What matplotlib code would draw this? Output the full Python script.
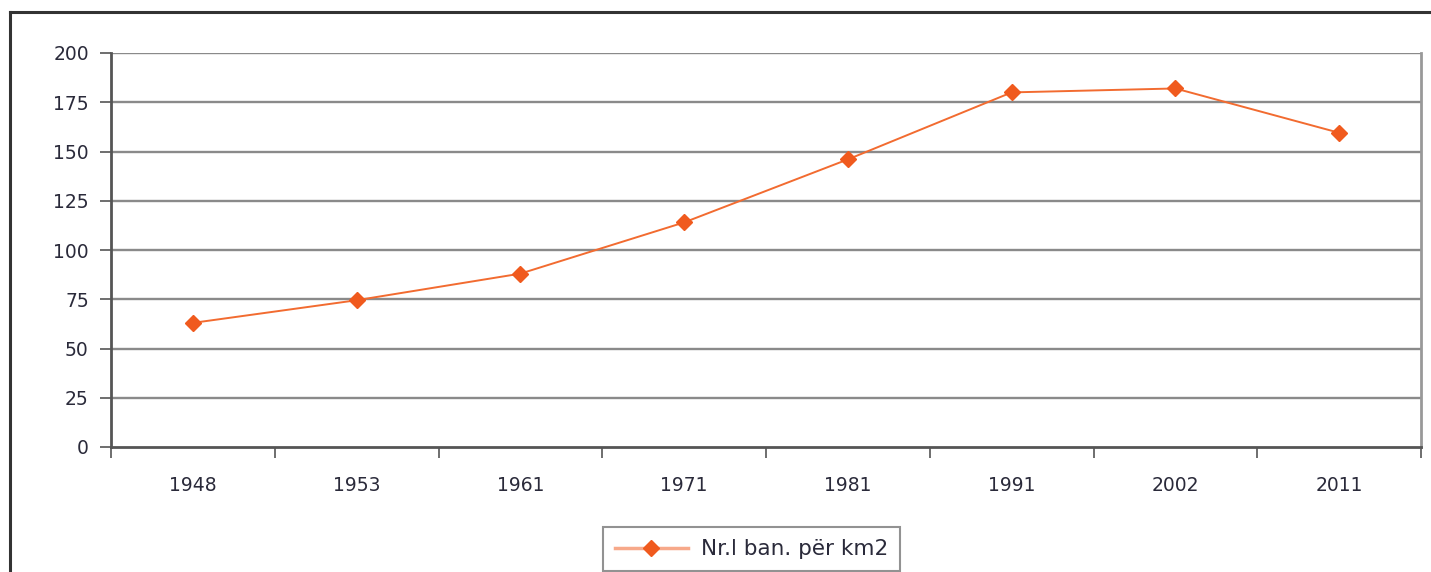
import matplotlib
matplotlib.use("Agg")
import matplotlib.pyplot as plt
from matplotlib.lines import Line2D

years = ["1948", "1953", "1961", "1971", "1981", "1991", "2002", "2011"]
density = [63, 74.5, 88, 114, 146, 180, 182, 159.5]
yticks = [0, 25, 50, 75, 100, 125, 150, 175, 200]
series_label = "Nr.l ban. për km2"

plt.rcParams['font.family'] = ['DejaVu Sans']

W, H = 1431, 572
fig = plt.figure(figsize=(W / 100, H / 100), dpi=100)

# outer frame (left, top)
fig.add_artist(Line2D([10 / W, 10 / W], [0, 1 - 12 / H], transform=fig.transFigure,
                      color="#333333", lw=2.2))
fig.add_artist(Line2D([10 / W, 1], [1 - 12 / H, 1 - 12 / H], transform=fig.transFigure,
                      color="#333333", lw=2.2))

left, right, top, bottom = 111, 1421, 53, 447
ax = fig.add_axes([left / W, 1 - bottom / H, (right - left) / W, (bottom - top) / H])

x = list(range(len(years)))
color = "#f05a1e"
ax.plot(x, density, color="#f26b30", lw=1.4, marker="D", markersize=8.5,
        markerfacecolor=color, markeredgecolor=color, label=series_label)

fs = 13.5
ax.set_xlim(-0.5, len(years) - 0.5)
ax.set_ylim(0, 200)
ax.set_yticks(yticks)
ax.set_yticklabels([str(v) for v in yticks])
ax.set_xticks(x)
ax.set_xticklabels(years)
ax.set_xticks([i + 0.5 for i in range(-1, len(years))], minor=True)
ax.tick_params(axis="x", which="major", length=0, pad=21, labelsize=fs, labelcolor="#2a2a3a")
ax.tick_params(axis="x", which="minor", length=8, width=1.2, color="#555555", direction="out")
ax.tick_params(axis="y", length=8, width=1.2, color="#555555", pad=8, labelsize=fs,
               labelcolor="#2a2a3a")

for v in yticks[1:]:
    ax.axhline(v, color="#8a8a8a", lw=1.7, zorder=0)

ax.spines["left"].set_color("#555555")
ax.spines["left"].set_linewidth(2)
ax.spines["bottom"].set_color("#555555")
ax.spines["bottom"].set_linewidth(2)
ax.spines["top"].set_visible(False)
ax.spines["right"].set_color("#999999")
ax.spines["right"].set_linewidth(2)

leg = fig.legend(loc="lower left", bbox_to_anchor=(603 / W, 1 - 571 / H), frameon=True,
                 fancybox=False, fontsize=15.5, handlelength=3.4, borderpad=0.55,
                 handletextpad=0.6, borderaxespad=0)
leg.get_frame().set_edgecolor("#777777")
leg.get_frame().set_linewidth(1.5)
for t in leg.get_texts():
    t.set_color("#2a2a3a")
for lh in leg.legend_handles:
    lh.set_color("#f7a98a")
    lh.set_linewidth(2.5)
    lh.set_markerfacecolor(color)
    lh.set_markeredgecolor(color)

fig.savefig("out.png", dpi=100)
